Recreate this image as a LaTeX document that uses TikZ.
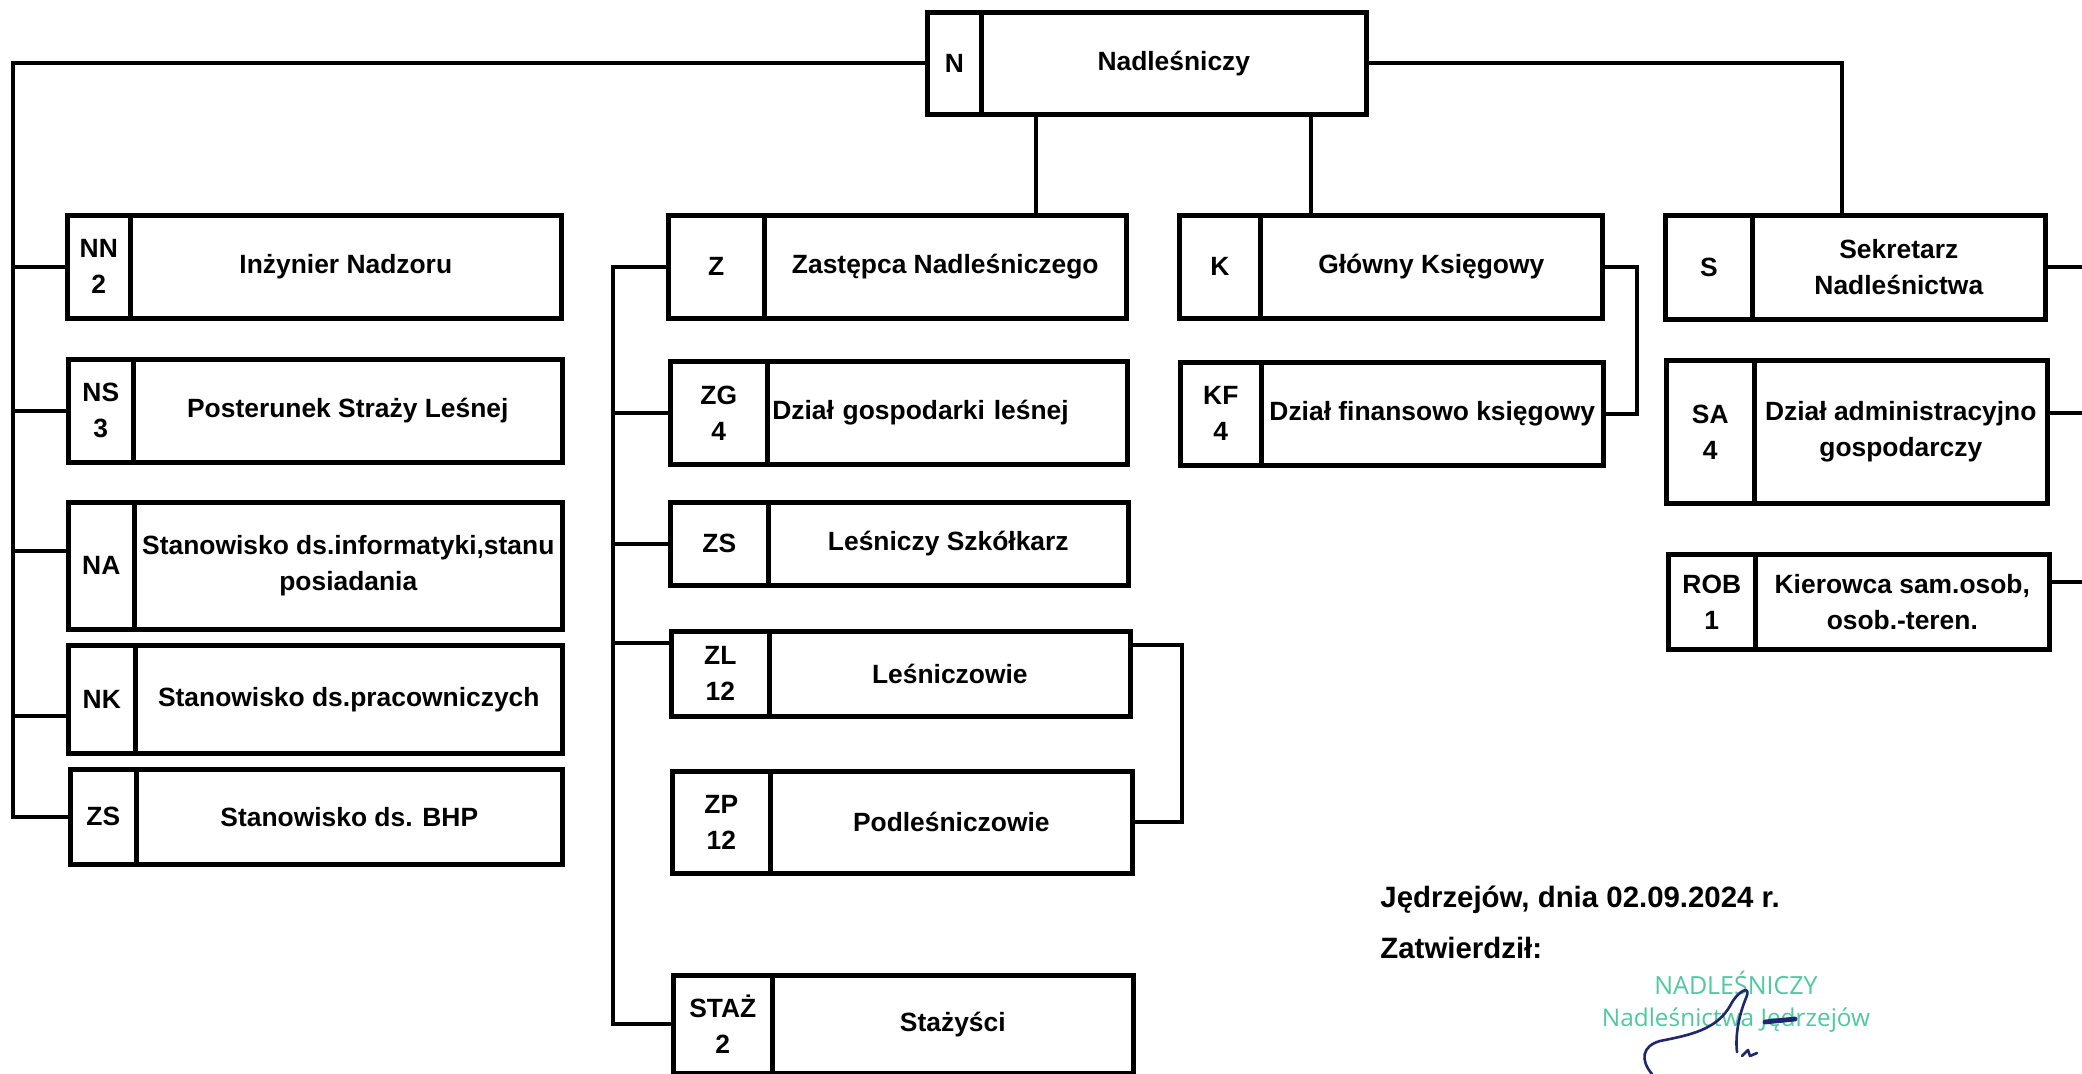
\documentclass[tikz,border=0pt]{standalone}
\usepackage{fontspec}
\setmainfont{Liberation Sans}
\newfontfamily\stampfont{Open Sans}
\usetikzlibrary{calc}
\definecolor{stamp}{RGB}{80,200,160}
\definecolor{ink}{RGB}{30,40,110}
\tikzset{
  cell/.style={draw=black, line width=2.3pt, fill=white, inner sep=1pt, align=center,
    font=\bfseries\fontsize{13.2}{18}\selectfont, anchor=north west},
  conn/.style={draw=black, line width=2pt},
  sig/.style={draw=ink, line width=1.3pt, line cap=round, line join=round},
  foot/.style={anchor=west, inner sep=0pt, font=\bfseries\fontsize{14.7}{18}\selectfont},
  stamptext/.style={inner sep=0pt, text=stamp},
}
% #1 title style, #2 name, #3 left, #4 divider, #5 right, #6 top, #7 bottom, #8 code, #9 title
\newcommand\orgbox[9][]{%
  \pgfmathsetmacro\cw{(#4-#3)*0.5}%
  \pgfmathsetmacro\tw{(#5-#4)*0.5}%
  \pgfmathsetmacro\bh{(#7-#6)*0.5}%
  \node[cell, minimum width=\cw pt, minimum height=\bh pt] (#2c) at (#3,#6) {#8};
  \node[cell, minimum width=\tw pt, minimum height=\bh pt, #1] (#2) at (#4,#6) {#9};
}
\begin{document}
\begin{tikzpicture}[x=0.5pt,y=-0.5pt]
\fill[white] (0,0) rectangle (2082,1074);
\useasboundingbox (0,0) rectangle (2082,1074);

% boxes
\orgbox{N}{925}{979}{1364}{10}{112}{N}{Nadleśniczy}
\orgbox{NN}{65}{128}{559}{213}{316}{NN\\2}{Inżynier Nadzoru}
\orgbox{NS}{66}{131}{560}{357}{460}{NS\\3}{Posterunek Straży Leśnej}
\orgbox{NA}{66}{132}{560}{500}{627}{NA}{Stanowisko ds.informatyki,stanu\\posiadania}
\orgbox{NK}{66}{133}{560}{643}{751}{NK}{Stanowisko ds.pracowniczych}
\orgbox{BHP}{68}{134}{560}{767}{862}{ZS}{Stanowisko ds. BHP}
\orgbox{Z}{666}{762}{1124}{213}{316}{Z}{Zastępca Nadleśniczego}
\orgbox[text width=175pt, align=left]{ZG}{668}{765}{1125}{359}{462}{ZG\\4}{Dział gospodarki leśnej}
\orgbox{ZS}{668}{766}{1126}{500}{583}{ZS}{Leśniczy Szkółkarz}
\orgbox{ZL}{669}{767}{1128}{629}{714}{ZL\\12}{Leśniczowie}
\orgbox{ZP}{670}{768}{1130}{769}{871}{ZP\\12}{Podleśniczowie}
\orgbox{ST}{671}{770}{1131}{973}{1071}{STAŻ\\2}{Stażyści}
\orgbox{K}{1177}{1258}{1600}{213}{316}{K}{Główny Księgowy}
\orgbox{KF}{1178}{1259}{1601}{360}{463}{KF\\4}{Dział finansowo księgowy}
\orgbox{S}{1663}{1750}{2043}{213}{317}{S}{Sekretarz\\Nadleśnictwa}
\orgbox{SA}{1664}{1752}{2045}{358}{501}{SA\\4}{Dział administracyjno\\gospodarczy}
\orgbox{ROB}{1666}{1753}{2047}{552}{647}{ROB\\1}{Kierowca sam.osob,\\osob.-teren.}

% trunk coordinates
\coordinate (LT) at (13,0);
\coordinate (ZT) at (613,0);
\coordinate (V1) at (1036,0);
\coordinate (V2) at (1311,0);
\coordinate (SX) at (1842,0);
\coordinate (KX) at (1637,0);
\coordinate (ZX) at (1182,0);
\coordinate (RE) at (2082,0);

% connectors from the top box
\draw[conn] (Nc.west) -| (LT |- BHPc.west) -- (BHPc.west);
\draw[conn] (N.east) -| (SX |- S.north);
\draw[conn] (V1 |- N.south) -- (V1 |- Z.north);
\draw[conn] (V2 |- N.south) -- (V2 |- K.north);

% left column
\draw[conn] (LT |- NNc.west) -- (NNc.west);
\draw[conn] (LT |- NSc.west) -- (NSc.west);
\draw[conn] ($(LT |- NAc.west)+(0,-15)$) -- ($(NAc.west)+(0,-15)$);
\draw[conn] ($(LT |- NKc.west)+(0,17)$) -- ($(NKc.west)+(0,17)$);

% deputy column
\draw[conn] (Zc.west) -| (ZT |- STc.west) -- (STc.west);
\draw[conn] (ZT |- ZGc.west) -- (ZGc.west);
\draw[conn] (ZT |- ZSc.west) -- (ZSc.west);
\draw[conn] ($(ZT |- ZLc.north west)+(0,14)$) -- ($(ZLc.north west)+(0,14)$);
\draw[conn] ($(ZL.north east)+(0,16)$) -| (ZX |- ZP.east) -- (ZP.east);

% accountant
\draw[conn] (K.east) -| (KX |- KF.east) -- (KF.east);

% secretary column
\coordinate (SE) at (S.east -| RE);
\coordinate (SAE) at ($(SA.east -| RE)+(0,-19)$);
\coordinate (ROBE) at ($(ROB.east -| RE)+(0,-20)$);
\draw[conn] (S.east) -- (SE);
\draw[conn] ($(SA.east)+(0,-19)$) -- (SAE);
\draw[conn] ($(ROB.east)+(0,-20)$) -- (ROBE);

% footer
\node[foot] (date) at (1380,900) {Jędrzejów, dnia 02.09.2024 r.};
\node[foot] (appr) at (1380,948) {Zatwierdził:};
\node[stamptext, font=\stampfont\fontsize{12.5}{15}\selectfont] (st1) at (1736,983) {NADLEŚNICZY};
\node[stamptext, font=\stampfont\fontsize{12.2}{15}\selectfont] (st2) at (1736,1020) {Nadleśnictwa Jędrzejów};

% signature
\draw[sig] (1652,1074) .. controls (1640,1060) and (1642,1046) .. (1660,1041)
  .. controls (1690,1035) and (1716,1030) .. (1730,1006)
  .. controls (1738,990) and (1752,984) .. (1746,998)
  .. controls (1739,1015) and (1735,1035) .. (1737,1052);
\draw[sig] (1742,1056) -- (1748,1050) -- (1750,1056) -- (1757,1053);
\draw[sig, line width=2.4pt] (1765,1022) -- (1795,1019);
\end{tikzpicture}
\end{document}
